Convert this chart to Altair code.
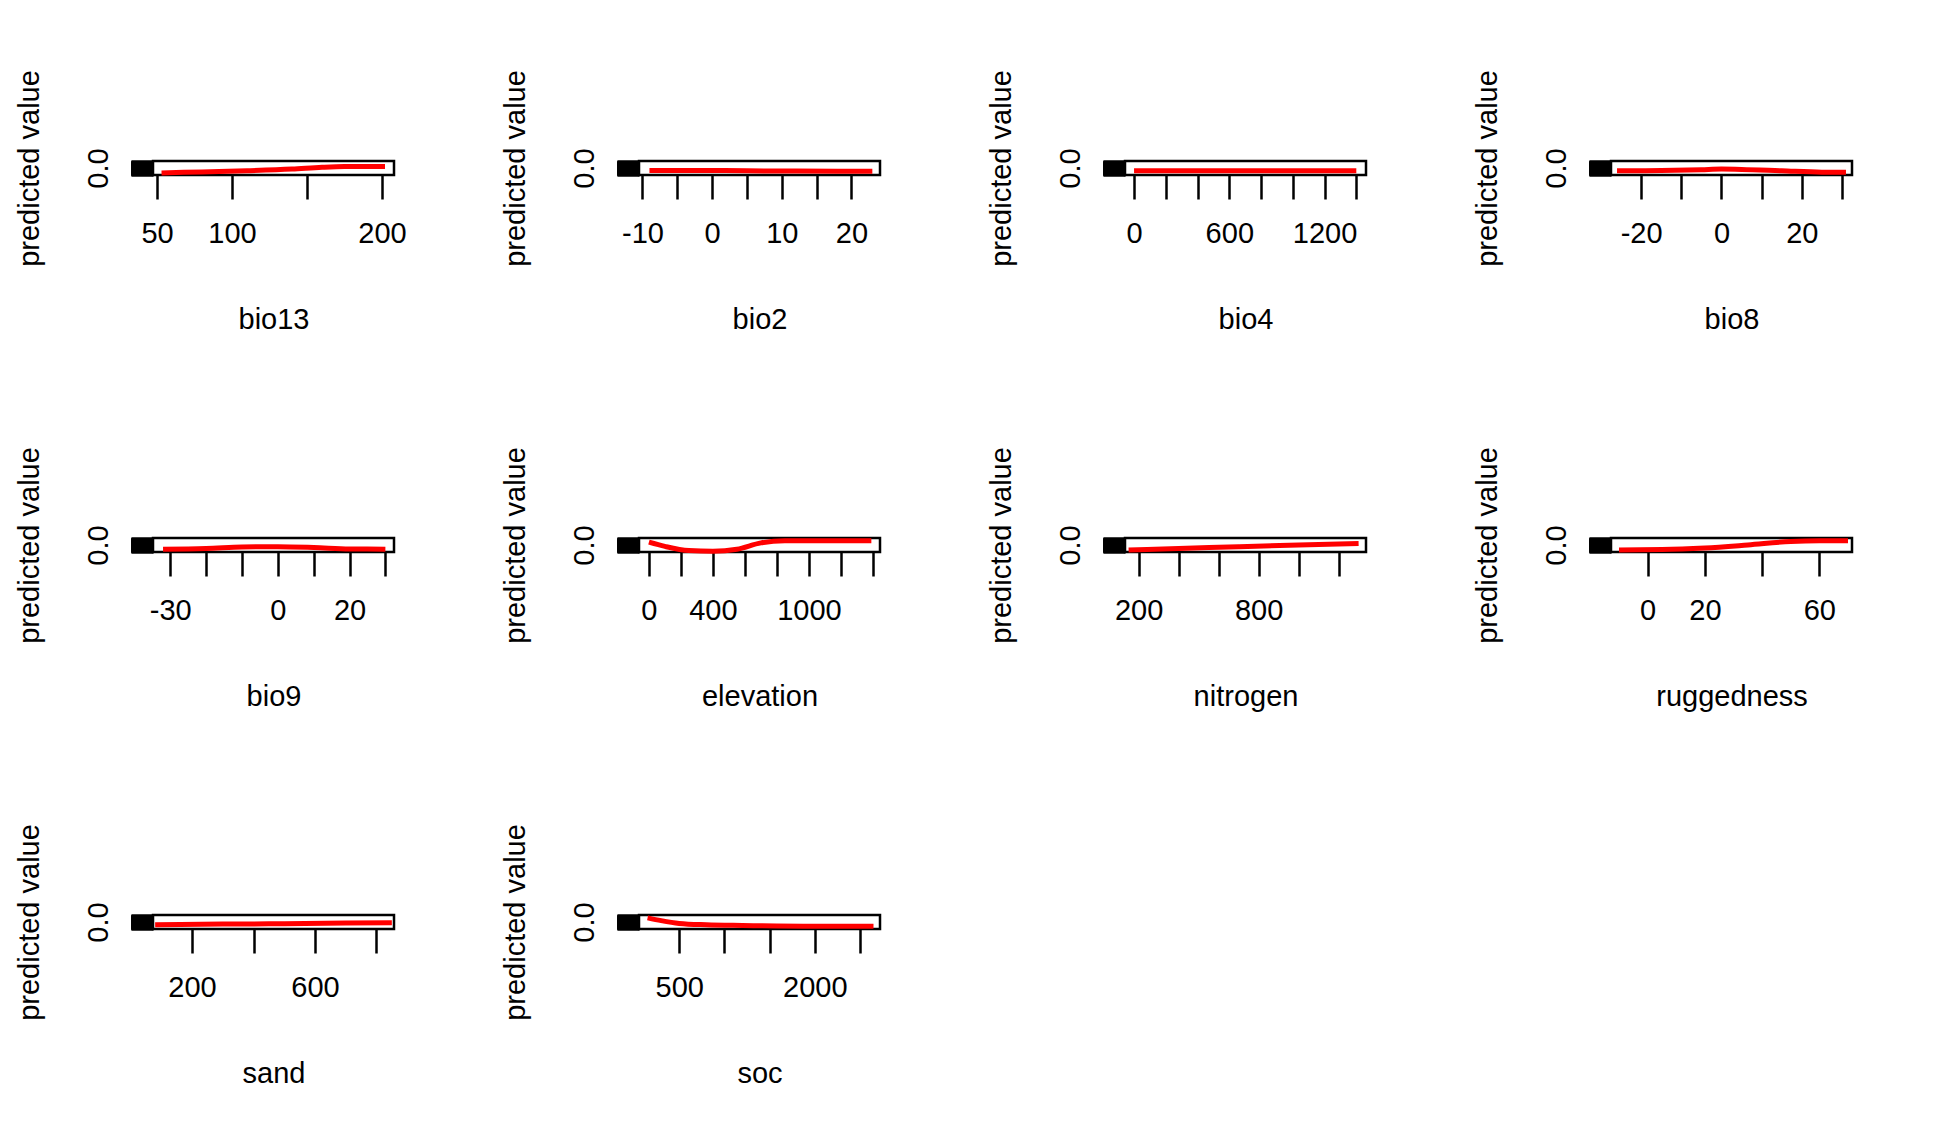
import altair as alt
import pandas as pd

FONT = "Liberation Sans"

names = ["bio13", "bio2", "bio4", "bio8", "bio9", "elevation", "nitrogen", "ruggedness", "sand", "soc"]
domains = {
    "bio13": [47.3, 208], "bio2": [-10.5, 24.1], "bio4": [-57, 1461], "bio8": [-27.5, 32.5],
    "bio9": [-34.8, 32.4], "elevation": [-62, 1444], "nitrogen": [132, 1337],
    "ruggedness": [-12.8, 71.4], "sand": [73, 857], "soc": [55, 2722],
}
ticks = {
    "bio13": [50, 100, 150, 200], "bio2": [-10, -5, 0, 5, 10, 15, 20],
    "bio4": [0, 200, 400, 600, 800, 1000, 1200, 1400], "bio8": [-30, -20, -10, 0, 10, 20, 30],
    "bio9": [-30, -20, -10, 0, 10, 20, 30], "elevation": [0, 200, 400, 600, 800, 1000, 1200, 1400],
    "nitrogen": [200, 400, 600, 800, 1000, 1200], "ruggedness": [0, 20, 40, 60],
    "sand": [200, 400, 600, 800], "soc": [500, 1000, 1500, 2000, 2500],
}
labels = {
    "bio13": [50, 100, 200], "bio2": [-10, 0, 10, 20], "bio4": [0, 600, 1200],
    "bio8": [-20, 0, 20], "bio9": [-30, 0, 20], "elevation": [0, 400, 1000],
    "nitrogen": [200, 800], "ruggedness": [0, 20, 60], "sand": [200, 600], "soc": [500, 2000],
}
curve_x = {
    "bio13": [53, 80, 110, 140, 160, 175, 190, 202],
    "bio2": [-9, -2, 5, 12, 18, 23],
    "bio4": [0, 300, 600, 900, 1200, 1400],
    "bio8": [-26, -15, -5, 0, 5, 15, 25, 31],
    "bio9": [-32, -20, -10, 0, 10, 20, 30],
    "elevation": [0, 100, 250, 400, 550, 700, 850, 1100, 1390],
    "nitrogen": [150, 400, 700, 1000, 1300],
    "ruggedness": [-10, 5, 20, 35, 50, 60, 70],
    "sand": [80, 300, 500, 700, 850],
    "soc": [150, 300, 500, 800, 1200, 2000, 2650],
}
curve_y = {
    "bio13": [0.15, 0.22, 0.3, 0.42, 0.55, 0.6, 0.6, 0.6],
    "bio2": [0.32, 0.33, 0.3, 0.28, 0.27, 0.27],
    "bio4": [0.3, 0.3, 0.3, 0.3, 0.3, 0.3],
    "bio8": [0.3, 0.32, 0.38, 0.42, 0.4, 0.3, 0.2, 0.2],
    "bio9": [0.2, 0.25, 0.35, 0.38, 0.32, 0.22, 0.2],
    "elevation": [0.7, 0.4, 0.1, 0.05, 0.2, 0.65, 0.8, 0.8, 0.8],
    "nitrogen": [0.15, 0.25, 0.38, 0.5, 0.6],
    "ruggedness": [0.15, 0.17, 0.28, 0.5, 0.75, 0.8, 0.8],
    "sand": [0.3, 0.35, 0.38, 0.42, 0.45],
    "soc": [0.8, 0.6, 0.4, 0.3, 0.25, 0.2, 0.2],
}
y_ticks = [round(i * 0.02, 2) for i in range(51)]

panels = []
for n in names:
    df = pd.DataFrame({"x": curve_x[n], "y": curve_y[n]})
    lab = "[" + ",".join(str(v) for v in labels[n]) + "]"
    ch = alt.Chart(df).mark_line(color="#ff0000", strokeWidth=5, interpolate="monotone").encode(
        x=alt.X("x:Q", title=n, scale=alt.Scale(domain=domains[n], nice=False, zero=False),
                axis=alt.Axis(values=ticks[n],
                              labelExpr=f"indexof({lab}, datum.value) >= 0 ? toString(datum.value) : ''",
                              tickSize=24, tickWidth=2.5, tickColor="black", domain=False,
                              grid=False, labelPadding=20, labelFontSize=29, labelColor="black",
                              labelFont=FONT, titleFont=FONT, titleFontSize=29, titleFontWeight="normal",
                              titleColor="black", titlePadding=57, labelOverlap=False)),
        y=alt.Y("y:Q", title="predicted value", scale=alt.Scale(domain=[0, 1], nice=False),
                axis=alt.Axis(values=y_ticks, labelExpr="datum.value == 0.5 ? '0.0' : ''",
                              tickSize=22, tickWidth=2, tickColor="black", domain=False, grid=False,
                              labelAngle=270, labelAlign="center", labelBaseline="bottom",
                              labelPadding=18, labelFontSize=29, labelColor="black", labelFont=FONT,
                              titleFont=FONT, titleFontSize=29, titleFontWeight="normal",
                              titleColor="black", titlePadding=40, labelOverlap=False)),
    ).properties(width=241, height=14)
    panels.append(ch)

chart = alt.concat(
    *panels, columns=4, spacing=alt.RowColnumber(row=363, column=245), bounds="flush",
    padding={"top": 60, "left": 5, "right": 5, "bottom": 5},
).configure(background="white").configure_view(stroke="black", strokeWidth=2.5)

chart.save("out.html", embed_options={"renderer": "svg", "actions": False})
